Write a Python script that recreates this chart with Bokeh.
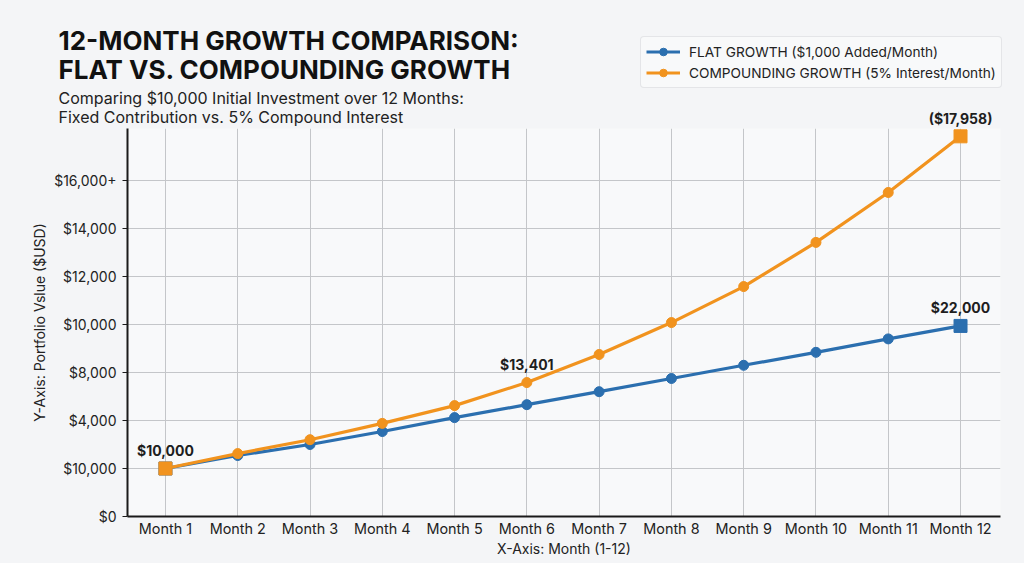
import numpy as np
from bokeh.plotting import figure
from bokeh.layouts import column
from bokeh.models import (Range1d, FixedTicker, Label, Legend, LegendItem,
                          ColumnDataSource, InlineStyleSheet)
from bokeh.embed import file_html
from bokeh.resources import INLINE

# ---- data -------------------------------------------------------------
months = [1, 2, 3, 4, 5, 6, 7, 8, 9, 10, 11, 12]
month_labels = ["Month 1", "Month 2", "Month 3", "Month 4", "Month 5", "Month 6",
                "Month 7", "Month 8", "Month 9", "Month 10", "Month 11", "Month 12"]

# value-axis rows (one unit per labelled gridline)
y_ticks = [0, 1, 2, 3, 4, 5, 6, 7]
y_tick_labels = ["$0", "$10,000", "$4,000", "$8,000", "$10,000",
                 "$12,000", "$14,000", "$16,000+"]

flat_growth = [1.00, 1.27, 1.50, 1.77, 2.06, 2.33, 2.60, 2.875, 3.15, 3.42, 3.70, 3.97]
compound_growth = [1.00, 1.31, 1.60, 1.94, 2.31, 2.79, 3.375, 4.04, 4.79, 5.71, 6.75, 7.92]

# value callouts
callout_months = [1, 6, 12, 12]
callout_series = ["compound", "compound", "flat", "compound"]
callout_texts = ["$10,000", "$13,401", "$22,000", "($17,958)"]

title_lines = ["12-MONTH GROWTH COMPARISON:", "FLAT VS. COMPOUNDING GROWTH"]
subtitle_lines = ["Comparing $10,000 Initial Investment over 12 Months:",
                  "Fixed Contribution vs. 5% Compound Interest"]
legend_labels = ["FLAT GROWTH ($1,000 Added/Month)",
                 "COMPOUNDING GROWTH (5% Interest/Month)"]

# ---- styling ----------------------------------------------------------
BLUE = "#2b6faf"
ORANGE = "#f1931e"
BG = "#f4f5f7"
PLOT_BG = "#f8f9fa"
FONT = "Inter"
W, H = 1024, 563
HEAD_H = 128                      # header strip above the plot frame
LEFT, RIGHT, BOTTOM = 127, 24, 47
X0, X1 = 0.475, 12.553
Y0, Y1 = 0.0, 8.083

page_bg = InlineStyleSheet(css=":host { background-color: %s; }" % BG)

# ---- main chart -------------------------------------------------------
p = figure(width=W, height=H - HEAD_H, output_backend="svg", toolbar_location=None,
           x_range=Range1d(X0, X1), y_range=Range1d(Y0, Y1),
           min_border_left=LEFT, min_border_right=RIGHT,
           min_border_top=0, min_border_bottom=BOTTOM)
p.background_fill_color = PLOT_BG
p.border_fill_color = BG
p.outline_line_color = None
p.stylesheets = [page_bg]

p.xgrid.ticker = FixedTicker(ticks=months)
p.ygrid.ticker = FixedTicker(ticks=y_ticks)
for g in (p.xgrid, p.ygrid):
    g.grid_line_color = "#c4c6c9"
    g.grid_line_width = 1

p.xaxis.ticker = FixedTicker(ticks=months)
p.xaxis.major_label_overrides = {m: lab for m, lab in zip(months, month_labels)}
p.yaxis.ticker = FixedTicker(ticks=y_ticks)
p.yaxis.major_label_overrides = {t: lab for t, lab in zip(y_ticks, y_tick_labels)}
for ax in (p.xaxis, p.yaxis):
    ax.axis_line_color = "#1a1a1a"
    ax.axis_line_width = 2
    ax.minor_tick_line_color = None
    ax.major_label_text_font = FONT
    ax.major_label_text_font_size = "14px"
    ax.major_label_text_color = "#222222"
    ax.axis_label_text_font = FONT
    ax.axis_label_text_font_size = "14px"
    ax.axis_label_text_font_style = "normal"
    ax.axis_label_text_color = "#222222"
p.xaxis.major_label_text_font_size = "14.4px"
p.xaxis.major_tick_line_color = None
p.xaxis.major_tick_out = 0
p.xaxis.major_label_standoff = 3
p.xaxis.axis_label = "X-Axis: Month (1-12)"
p.xaxis.axis_label_standoff = 0
p.yaxis.major_tick_line_color = "#1a1a1a"
p.yaxis.major_tick_out = 5
p.yaxis.major_tick_in = 0
p.yaxis.major_label_standoff = 6
p.yaxis.axis_label = "Y-Axis: Portfolio Vslue ($USD)"
p.yaxis.axis_label_standoff = 3

src = ColumnDataSource(dict(month=months, flat=flat_growth, compound=compound_growth))
end_idx = [0, len(months) - 1]
ends = ColumnDataSource(dict(month=[months[i] for i in end_idx],
                             flat=[flat_growth[i] for i in end_idx],
                             compound=[compound_growth[i] for i in end_idx]))
mid = ColumnDataSource(dict(month=months[1:-1], flat=flat_growth[1:-1],
                            compound=compound_growth[1:-1]))


def draw_series(fig, source_all, source_mid, source_end, field, color):
    fig.line("month", field, source=source_all, line_color=color, line_width=3.2)
    fig.scatter("month", field, source=source_mid, marker="circle", size=10,
                fill_color=color, line_color=color)
    fig.scatter("month", field, source=source_end, marker="square", size=13,
                fill_color=color, line_color=color)


draw_series(p, src, mid, ends, "flat", BLUE)
draw_series(p, src, mid, ends, "compound", ORANGE)

# ---- header strip (titles, legend, top callout) ------------------------
frame_w = W - LEFT - RIGHT
frame_h = H - HEAD_H - BOTTOM
ppx = frame_w / (X1 - X0)          # pixels per month
ppy = frame_h / (Y1 - Y0)          # pixels per value-axis unit
head = figure(width=W, height=HEAD_H, output_backend="svg", toolbar_location=None,
              x_axis_type=None, y_axis_type=None,
              x_range=Range1d(X0 - LEFT / ppx, X1 + RIGHT / ppx),
              y_range=Range1d(Y1, Y1 + HEAD_H / ppy),
              min_border=0)
if "frame_align" in head.properties():
    head.frame_align = False
head.background_fill_color = BG
head.border_fill_color = BG
head.outline_line_color = None
head.grid.visible = False
head.stylesheets = [page_bg]

heading = [
    (title_lines[0], 24, "26px", "bold", "#111111"),
    (title_lines[1], 53, "26px", "bold", "#111111"),
    (subtitle_lines[0], 87, "16px", "normal", "#222222"),
    (subtitle_lines[1], 106, "16px", "normal", "#222222"),
]
for txt, top, size, style, color in heading:
    head.add_layout(Label(x=58, y=HEAD_H - top, x_units="screen", y_units="screen",
                          text=txt, text_font=FONT, text_font_size=size,
                          text_font_style=style, text_color=color,
                          text_baseline="top"))

# legend swatches: off-screen renderers carrying each series' style
swatches = []
for color in (BLUE, ORANGE):
    hidden = ColumnDataSource(dict(x=np.array([np.nan]), y=np.array([np.nan])))
    ln = head.line("x", "y", source=hidden, line_color=color, line_width=3.2)
    mk = head.scatter("x", "y", source=hidden, marker="circle", size=9,
                      fill_color=color, line_color=color)
    swatches.append([ln, mk])
legend = Legend(items=[LegendItem(label=lab, renderers=r)
                       for lab, r in zip(legend_labels, swatches)],
                location=(640, HEAD_H - 88))
legend.label_text_font = FONT
legend.label_text_font_size = "13.7px"
legend.label_text_color = "#222222"
legend.glyph_width = 34
legend.glyph_height = 19
legend.label_height = 19
legend.spacing = 2
legend.padding = 5
legend.margin = 0
legend.label_standoff = 9
legend.border_line_color = "#cfd2d6"
legend.border_radius = 4
legend.background_fill_color = PLOT_BG
legend.background_fill_alpha = 1
head.add_layout(legend)

# callouts: each goes to whichever panel holds its text
series_map = {"flat": flat_growth, "compound": compound_growth}
CALLOUT_RISE = 18
for m, s, txt in zip(callout_months, callout_series, callout_texts):
    yv = series_map[s][months.index(m)]
    target = head if yv + (CALLOUT_RISE + 7) / ppy > Y1 else p
    target.add_layout(Label(x=m, y=yv, text=txt, y_offset=CALLOUT_RISE,
                            text_align="center", text_baseline="middle",
                            text_font=FONT, text_font_style="bold",
                            text_font_size="14px", text_color="#1e1e1e"))

layout = column(head, p, spacing=0)
layout.stylesheets = [page_bg]
open("out.html", "w").write(file_html(layout, INLINE))
